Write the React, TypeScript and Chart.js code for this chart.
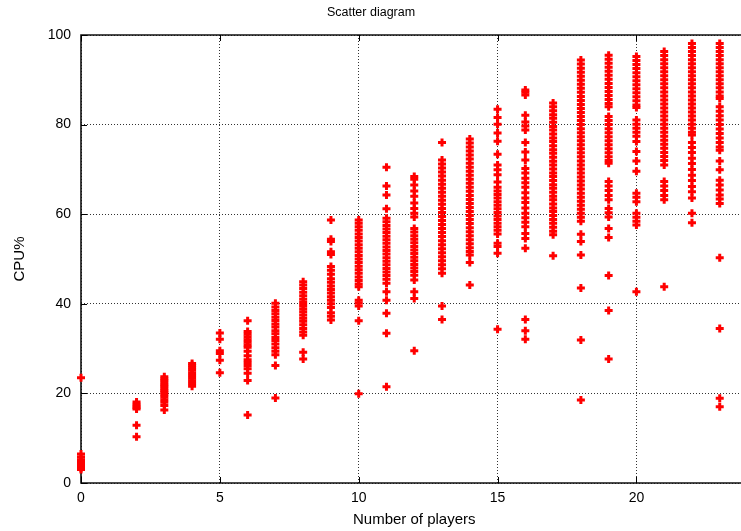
import React, { useEffect, useRef } from "react";
import { Chart, registerables } from "chart.js";

Chart.register(...registerables);

// CPU load samples (%) grouped by number of connected players
const players = [0, 2, 3, 4, 5, 6, 7, 8, 9, 10, 11, 12, 13, 14, 15, 16, 17, 18, 19, 20, 21, 22, 23];

const cpu0 = [23.5, 6.5, 5.8, 5.2, 4.8, 4.4, 4.0, 3.6, 3.3, 3.0];
const cpu2 = [18.1, 17.6, 17.2, 16.8, 16.5, 12.9, 10.3];
const cpu3 = [23.7, 23.2, 22.8, 22.3, 21.9, 21.5, 21.0, 20.6, 20.2, 19.7, 19.2, 18.6, 18.0, 17.3, 16.3];
const cpu4 = [26.7, 26.2, 25.7, 25.2, 24.6, 24.0, 23.4, 22.8, 22.2, 21.6];
const cpu5 = [33.5, 32.1, 29.5, 28.9, 27.4, 24.6];
const cpu6 = [36.2, 33.8, 33.2, 32.6, 32.0, 31.4, 30.8, 30.3, 29.4, 28.4, 27.5, 26.9, 26.2, 25.5, 24.5, 22.9, 15.2];
const cpu7 = [40.1, 39.3, 38.5, 37.8, 37.0, 36.3, 35.5, 34.8, 34.0, 33.3, 32.5, 31.8, 31.0, 30.2, 29.4, 28.6, 26.2, 19.0];
const cpu8 = [44.9, 44.2, 43.4, 42.6, 41.8, 41.0, 40.3, 39.6, 38.9, 38.2, 37.5, 36.8, 36.1, 35.3, 34.5, 33.7, 33.0, 29.2, 27.7];
const cpu9 = [58.7, 54.4, 53.9, 51.6, 51.0, 48.3, 47.5, 46.6, 45.6, 44.8, 44.0, 43.2, 42.4, 41.6, 40.8, 40.0, 39.2, 38.0, 37.2, 36.4];
const cpu10 = [58.7, 58.0, 57.2, 56.4, 55.6, 54.8, 54.0, 53.2, 52.4, 51.6, 50.8, 50.0, 49.2, 48.4, 47.6, 46.8, 46.0, 45.2, 44.4, 43.8, 40.8, 40.2, 39.5, 36.2, 19.9];
const cpu11 = [70.5, 66.3, 64.3, 61.2, 59.1, 58.3, 57.5, 56.7, 55.9, 55.1, 54.3, 53.5, 52.7, 51.9, 51.1, 50.3, 49.5, 48.7, 47.9, 47.1, 46.3, 45.5, 44.6, 42.7, 40.8, 37.9, 33.4, 21.5];
const cpu12 = [68.4, 67.8, 66.5, 65.2, 64.0, 62.5, 61.3, 60.2, 59.4, 56.8, 56.0, 55.2, 54.4, 53.6, 52.8, 52.0, 51.2, 50.4, 49.6, 48.8, 48.0, 47.2, 46.4, 45.3, 42.7, 41.2, 29.5];
const cpu13 = [76.0, 72.1, 71.2, 70.3, 69.4, 68.5, 67.6, 66.7, 65.8, 64.9, 64.0, 63.1, 62.2, 61.3, 60.4, 59.5, 58.6, 57.7, 56.8, 55.9, 55.0, 54.1, 53.2, 52.3, 51.4, 50.5, 49.6, 48.7, 47.8, 46.8, 39.5, 36.5];
const cpu14 = [76.8, 75.9, 75.0, 74.1, 73.2, 72.3, 71.4, 70.5, 69.6, 68.7, 67.8, 66.9, 66.0, 65.1, 64.2, 63.3, 62.4, 61.5, 60.6, 59.7, 58.8, 57.9, 57.0, 56.1, 55.2, 54.3, 53.4, 52.5, 51.7, 50.9, 49.2, 44.2];
const cpu15 = [83.4, 81.6, 80.1, 78.1, 76.3, 73.4, 71.0, 69.9, 68.8, 67.2, 66.0, 65.2, 64.4, 63.6, 62.8, 62.0, 61.2, 60.4, 59.6, 58.8, 58.0, 57.2, 56.4, 55.6, 53.5, 52.8, 51.3, 34.3];
const cpu16 = [87.7, 87.2, 86.6, 82.1, 80.6, 79.7, 78.8, 76.0, 73.9, 72.1, 70.2, 69.2, 68.0, 67.0, 66.0, 64.8, 63.6, 62.6, 61.4, 60.2, 59.2, 58.2, 57.2, 55.7, 54.6, 52.4, 36.5, 34.0, 32.1];
const cpu17 = [84.8, 84.0, 83.1, 82.2, 81.4, 80.5, 79.6, 78.8, 77.9, 77.0, 76.2, 75.3, 74.4, 73.6, 72.7, 71.8, 71.0, 70.1, 69.2, 68.4, 67.5, 66.6, 65.8, 64.9, 64.0, 63.2, 62.3, 61.4, 60.6, 59.7, 58.8, 58.0, 57.1, 56.2, 55.4, 50.7];
const cpu18 = [94.4, 93.5, 92.6, 91.7, 90.8, 89.9, 89.0, 88.1, 87.2, 86.3, 85.4, 84.5, 83.6, 82.7, 81.8, 80.9, 80.0, 79.1, 78.2, 77.3, 76.4, 75.5, 74.6, 73.7, 72.8, 71.9, 71.0, 70.1, 69.2, 68.3, 67.4, 66.5, 65.6, 64.7, 63.8, 62.9, 62.0, 61.1, 60.2, 59.3, 58.4, 55.5, 53.9, 50.9, 43.5, 31.9, 18.5];
const cpu19 = [95.5, 94.6, 93.7, 92.8, 91.9, 91.0, 90.1, 89.2, 88.3, 87.4, 86.5, 85.6, 84.7, 84.0, 81.8, 80.9, 80.0, 79.1, 78.2, 77.3, 76.4, 75.5, 74.6, 73.7, 72.8, 72.0, 71.4, 67.3, 66.3, 65.3, 64.2, 63.2, 61.3, 60.3, 59.4, 56.8, 54.8, 46.3, 38.5, 27.7];
const cpu20 = [95.2, 94.3, 93.4, 92.5, 91.6, 90.7, 89.8, 88.9, 88.0, 87.1, 86.2, 85.3, 84.4, 83.8, 81.0, 80.1, 79.2, 78.3, 77.4, 76.2, 74.0, 71.9, 69.6, 64.7, 63.8, 62.8, 60.2, 59.3, 58.4, 57.6, 42.7];
const cpu21 = [96.3, 95.4, 94.5, 93.6, 92.7, 91.8, 90.9, 90.0, 89.1, 88.2, 87.3, 86.4, 85.5, 84.6, 83.7, 82.8, 81.9, 81.0, 80.1, 79.2, 78.3, 77.4, 76.5, 75.6, 74.7, 73.8, 72.9, 72.0, 71.0, 67.3, 66.3, 65.3, 64.2, 63.2, 43.8];
const cpu22 = [98.1, 97.2, 96.3, 95.4, 94.5, 93.6, 92.7, 91.8, 90.9, 90.0, 89.1, 88.2, 87.3, 86.4, 85.5, 84.6, 83.7, 82.8, 81.9, 81.0, 80.1, 79.2, 78.3, 77.7, 76.0, 74.9, 73.8, 72.5, 71.3, 70.0, 68.7, 67.5, 66.2, 65.0, 63.6, 60.2, 58.1];
const cpu23 = [98.1, 97.2, 96.3, 95.4, 94.5, 93.6, 92.7, 91.8, 90.9, 90.0, 89.1, 88.2, 87.3, 86.4, 85.8, 84.0, 83.0, 82.0, 81.0, 80.0, 79.0, 78.0, 77.0, 76.0, 75.0, 74.3, 71.9, 69.9, 67.6, 66.5, 65.4, 64.3, 63.4, 62.4, 50.3, 34.5, 18.9, 17.0];

const cpuByPlayers = [cpu0, cpu2, cpu3, cpu4, cpu5, cpu6, cpu7, cpu8, cpu9, cpu10, cpu11, cpu12, cpu13, cpu14, cpu15, cpu16, cpu17, cpu18, cpu19, cpu20, cpu21, cpu22, cpu23];

const xTicks = [0, 5, 10, 15, 20];
const yTicks = [0, 20, 40, 60, 80, 100];

const chartTitle = "Scatter diagram";
const xTitle = "Number of players";
const yTitle = "CPU%";

const FONT = '"Liberation Sans", Arial, Helvetica, sans-serif';

// Solid plot border with short inward tick marks on top, left and bottom
const framePlugin = {
  id: "frame",
  beforeDatasetsDraw(chart: any) {
    const { ctx, chartArea, scales } = chart;
    const { left, top, right, bottom } = chartArea;
    ctx.save();
    ctx.strokeStyle = "#111";
    ctx.lineWidth = 1.6;
    ctx.beginPath();
    ctx.moveTo(right, top);
    ctx.lineTo(left, top);
    ctx.lineTo(left, bottom);
    ctx.lineTo(right, bottom);
    ctx.stroke();

    ctx.lineWidth = 1;
    ctx.strokeStyle = "#000";
    const len = 6;
    ctx.beginPath();
    for (const v of xTicks) {
      const px = Math.round(scales.x.getPixelForValue(v)) + 0.5;
      ctx.moveTo(px, bottom);
      ctx.lineTo(px, bottom - len);
      ctx.moveTo(px, top);
      ctx.lineTo(px, top + len);
    }
    for (const v of yTicks) {
      const py = Math.round(scales.y.getPixelForValue(v)) + 0.5;
      ctx.moveTo(left, py);
      ctx.lineTo(left + len, py);
    }
    ctx.stroke();
    ctx.restore();
  },
};

// Page heading, centred over the visible figure width
const headingPlugin = {
  id: "heading",
  afterDraw(chart: any) {
    const { ctx } = chart;
    ctx.save();
    ctx.fillStyle = "#000";
    ctx.font = `12.5px ${FONT}`;
    ctx.textAlign = "center";
    ctx.textBaseline = "middle";
    ctx.fillText(chartTitle, 371, 13);
    ctx.restore();
  },
};

export default function App() {
  const canvasRef = useRef<HTMLCanvasElement | null>(null);

  useEffect(() => {
    const canvas = canvasRef.current;
    if (!canvas) return;

    const points = players.flatMap((p, i) => cpuByPlayers[i].map((c) => ({ x: p, y: c })));

    const gridColor = "rgba(0,0,0,0.8)";

    const chart = new Chart(canvas, {
      type: "scatter",
      data: {
        datasets: [
          {
            data: points,
            pointStyle: "cross",
            pointRadius: 4,
            pointBorderWidth: 3,
            borderColor: "#ff0000",
            backgroundColor: "#ff0000",
            pointHoverRadius: 4,
            clip: false,
          },
        ],
      },
      options: {
        animation: false,
        responsive: false,
        devicePixelRatio: 1,
        layout: { padding: { left: 0, top: 35, right: 80.5, bottom: 0 } },
        plugins: {
          legend: { display: false },
          tooltip: { enabled: false },
          title: { display: false },
        },
        scales: {
          x: {
            type: "linear",
            position: "bottom",
            min: 0,
            max: 24,
            afterFit: (s: any) => {
              s.height = 48;
            },
            afterBuildTicks: (s: any) => {
              s.ticks = xTicks.map((v) => ({ value: v }));
            },
            ticks: {
              color: "#000",
              font: { family: FONT, size: 14 },
              padding: 7,
              maxRotation: 0,
              autoSkip: false,
            },
            grid: { color: gridColor, lineWidth: 1, drawTicks: false },
            border: { display: false, dash: [1, 2] },
            title: {
              display: true,
              text: xTitle,
              color: "#000",
              font: { family: FONT, size: 15 },
              padding: { top: 0, bottom: 2 },
            },
          },
          y: {
            type: "linear",
            min: 0,
            max: 100,
            afterFit: (s: any) => {
              s.width = 81;
            },
            afterBuildTicks: (s: any) => {
              s.ticks = yTicks.map((v) => ({ value: v }));
            },
            ticks: {
              color: "#000",
              font: { family: FONT, size: 14 },
              padding: 10,
              autoSkip: false,
            },
            grid: { color: gridColor, lineWidth: 1, drawTicks: false },
            border: { display: false, dash: [1, 2] },
            title: {
              display: true,
              text: yTitle,
              color: "#000",
              font: { family: FONT, size: 15 },
              padding: { top: 11, bottom: 0 },
            },
          },
        },
      },
      plugins: [framePlugin, headingPlugin],
    });

    return () => chart.destroy();
  }, []);

  return (
    <div
      style={{
        position: "fixed",
        left: 0,
        top: 0,
        width: 741,
        height: 531,
        overflow: "hidden",
        background: "#fff",
      }}
    >
      <canvas ref={canvasRef} width={828} height={531} style={{ display: "block", width: 828, height: 531 }} />
    </div>
  );
}
